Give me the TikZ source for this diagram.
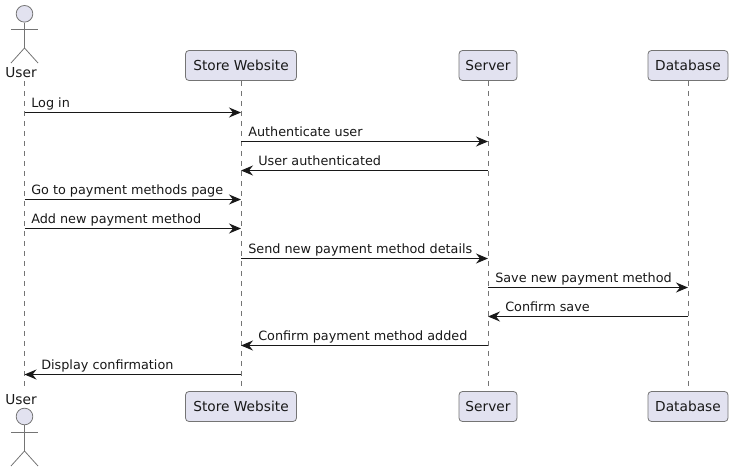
\documentclass[tikz,border=0pt]{standalone}
\usepackage{fontspec}
\setmainfont{DejaVu Sans}
\usetikzlibrary{arrows.meta}
\definecolor{partfill}{HTML}{E2E2F0}
\definecolor{ink}{HTML}{181818}
\tikzset{
  x=0.75pt,y=-0.75pt,
  part/.style={draw=ink!60,line width=0.6pt,fill=partfill,rounded corners=2.6pt,minimum height=22.5pt,inner sep=0pt,font=\fontsize{10.3pt}{12pt}\selectfont,text=ink},
  actorlabel/.style={inner sep=0pt,font=\fontsize{10.3pt}{12pt}\selectfont,text=ink},
  actorline/.style={draw=ink!60,line width=0.6pt},
  head/.style={circle,draw=ink!60,fill=partfill,line width=0.6pt,minimum size=12.5pt,inner sep=0pt},
  life/.style={draw=ink!60,line width=0.6pt,dash pattern=on 3.75pt off 3.75pt},
  msg/.style={draw=ink,line width=0.75pt,-{Stealth[length=9pt,width=7.5pt,inset=3pt]}},
  msgtext/.style={inner sep=0pt,anchor=base west,font=\fontsize{9.6pt}{11pt}\selectfont,text=ink}
}
\begin{document}
\begin{tikzpicture}
\useasboundingbox (0,0) rectangle (733,472);
% participants
\node[part,minimum width=83.25pt] (st) at (241,65.5) {Store Website};
\node[part,minimum width=43.5pt] (se) at (488,65.5) {Server};
\node[part,minimum width=60pt] (db) at (688,65.5) {Database};
\node[part,minimum width=83.25pt] (sb) at (241,406.5) {Store Website};
\node[part,minimum width=43.5pt] (re) at (488,406.5) {Server};
\node[part,minimum width=60pt] (dd) at (688,406.5) {Database};
\node[actorlabel] (ut) at (21,73) {User};
\node[actorlabel] (ub) at (21,400) {User};
% lifelines
\coordinate (lt) at (24.5,81);
\coordinate (lb) at (24.5,391);
\draw[life] (lt) -- (lb);
\draw[life] (st.south) -- (sb.north);
\draw[life] (se.south) -- (re.north);
\draw[life] (db.south) -- (dd.north);
% top actor
\node[head] (h1) at (24.5,13.8) {};
\coordinate (n1) at (24.5,48);
\draw[actorline] (h1.south) -- (n1);
\coordinate (al1) at (11,29); \coordinate (ar1) at (38,29);
\draw[actorline] (al1) -- (ar1);
\coordinate (fl1) at (11,63); \coordinate (fr1) at (38,63);
\draw[actorline] (fl1) -- (n1) -- (fr1);
% bottom actor
\node[head] (h2) at (24.5,416.5) {};
\coordinate (n2) at (24.5,451);
\draw[actorline] (h2.south) -- (n2);
\coordinate (al2) at (11,432); \coordinate (ar2) at (38,432);
\draw[actorline] (al2) -- (ar2);
\coordinate (fl2) at (11,466); \coordinate (fr2) at (38,466);
\draw[actorline] (fl2) -- (n2) -- (fr2);
% message anchors
\foreach \n/\y in {1/112.5,2/141.5,3/170.5,4/199.5,5/228.5,6/258.5,7/287.5,8/316.5,9/345.5,10/374.5}{
  \coordinate (u\n) at (24.5,\y);
  \coordinate (w\n) at (241,\y);
  \coordinate (v\n) at (488,\y);
  \coordinate (d\n) at (688,\y);
}
% messages
\draw[msg] (u1) -- (w1);
\node[msgtext] (m1) at (31,107.5) {Log in};
\draw[msg] (w2) -- (v2);
\node[msgtext] (m2) at (248,136.5) {Authenticate user};
\draw[msg] (v3) -- (w3);
\node[msgtext] (m3) at (258,165.5) {User authenticated};
\draw[msg] (u4) -- (w4);
\node[msgtext] (m4) at (31,194.5) {Go to payment methods page};
\draw[msg] (u5) -- (w5);
\node[msgtext] (m5) at (31,223.5) {Add new payment method};
\draw[msg] (w6) -- (v6);
\node[msgtext] (m6) at (248,253.5) {Send new payment method details};
\draw[msg] (v7) -- (d7);
\node[msgtext] (m7) at (495,282.5) {Save new payment method};
\draw[msg] (d8) -- (v8);
\node[msgtext] (m8) at (505,311.5) {Confirm save};
\draw[msg] (v9) -- (w9);
\node[msgtext] (m9) at (258,340.5) {Confirm payment method added};
\draw[msg] (w10) -- (u10);
\node[msgtext] (m10) at (41,369.5) {Display confirmation};
\end{tikzpicture}
\end{document}
